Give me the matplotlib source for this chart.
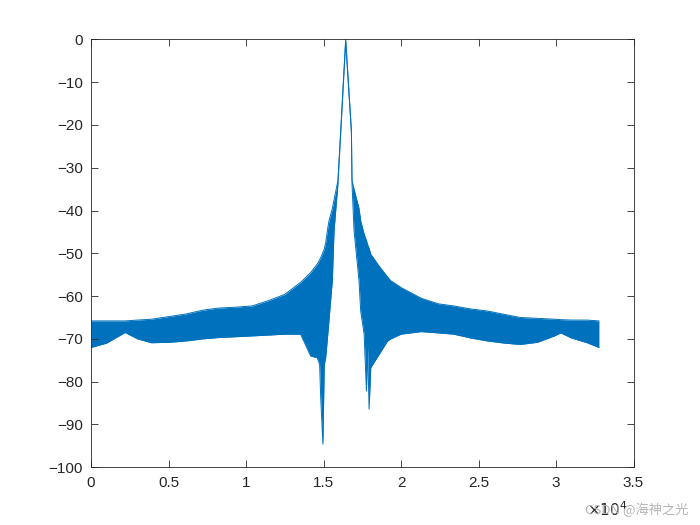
import numpy as np
import matplotlib.pyplot as plt

# 频谱包络 (x 单位: 1e4 点), 上/下包络 (dB)
x_k = [0.00, 0.10, 0.22, 0.30, 0.39, 0.50, 0.61, 0.72, 0.82, 0.93, 1.04, 1.15, 1.25,
       1.352, 1.417, 1.460, 1.475, 1.482, 1.496, 1.505, 1.514, 1.525, 1.535, 1.546,
       1.557, 1.568, 1.593, 1.611, 1.643, 1.680, 1.684, 1.697, 1.729, 1.740, 1.762,
       1.777, 1.785, 1.794, 1.805, 1.859, 1.913, 1.934, 2.00, 2.13, 2.24, 2.34, 2.45,
       2.56, 2.67, 2.77, 2.88, 2.99, 3.03, 3.10, 3.20, 3.277]
upper_db = [-65.8, -65.8, -65.8, -65.6, -65.4, -64.8, -64.2, -63.3, -62.8, -62.6, -62.3,
            -61.0, -59.6, -56.8, -54.5, -52.5, -51.5, -51.0, -49.8, -49.0, -47.5, -44.7,
            -42.5, -41.0, -39.5, -37.5, -33.0, -21.3, 0.0, -21.3, -33.0, -35.0, -39.5,
            -42.4, -45.5, -47.0, -48.0, -48.8, -50.2, -53.0, -55.5, -56.4, -58.0, -60.5,
            -61.8, -62.3, -63.0, -63.5, -64.3, -65.0, -65.2, -65.4, -65.5, -65.6, -65.6,
            -65.8]
lower_db = [-72.0, -71.0, -68.5, -70.0, -70.9, -70.8, -70.5, -70.0, -69.7, -69.5, -69.3,
            -69.1, -68.9, -68.9, -74.0, -74.4, -76.0, -83.8, -94.6, -76.0, -74.4, -70.0,
            -65.8, -61.0, -56.4, -44.7, -33.8, -21.8, -0.5, -21.8, -33.8, -44.7, -56.4,
            -63.5, -68.9, -82.2, -72.0, -86.4, -76.7, -73.6, -70.5, -70.0, -68.9, -68.3,
            -68.6, -68.9, -69.8, -70.5, -71.0, -71.3, -70.8, -69.3, -68.6, -69.8, -70.9,
            -72.0]

xticks = [0, 0.5, 1, 1.5, 2, 2.5, 3, 3.5]
xtick_labels = ["0", "0.5", "1", "1.5", "2", "2.5", "3", "3.5"]
yticks = list(range(-100, 1, 10))

c = "#0072BD"
fig = plt.figure(figsize=(7, 5.25), dpi=100)
ax = fig.add_axes([0.13, 0.11, 0.775, 0.815])
ax.fill_between(x_k, lower_db, upper_db, color=c, linewidth=0)
ax.plot(x_k, upper_db, color=c, lw=0.7)
ax.plot(x_k, lower_db, color=c, lw=0.7)

ax.set_xlim(0, 3.5)
ax.set_ylim(-100, 0)
ax.set_xticks(xticks)
ax.set_xticklabels(xtick_labels)
ax.set_yticks(yticks)
ax.tick_params(direction="in", top=True, right=True, length=5, width=0.6,
               colors="#262626", labelsize=11, pad=6)
for lab in ax.get_xticklabels() + ax.get_yticklabels():
    lab.set_family("Liberation Sans")
for s in ax.spines.values():
    s.set_linewidth(0.6)
    s.set_color("#262626")

# 指数标签与水印 (原图中两者重叠)
fig.text(0.838, 0.018, r"$\times10^{4}$", fontsize=11, color="#262626",
         family="Liberation Sans")
fig.text(0.983, 0.02, "CSDN @海神之光", fontsize=9.5, color="#b4b4b4", ha="right",
         family=["Noto Sans CJK SC", "DejaVu Sans"])

fig.savefig("out.png", dpi=100)
